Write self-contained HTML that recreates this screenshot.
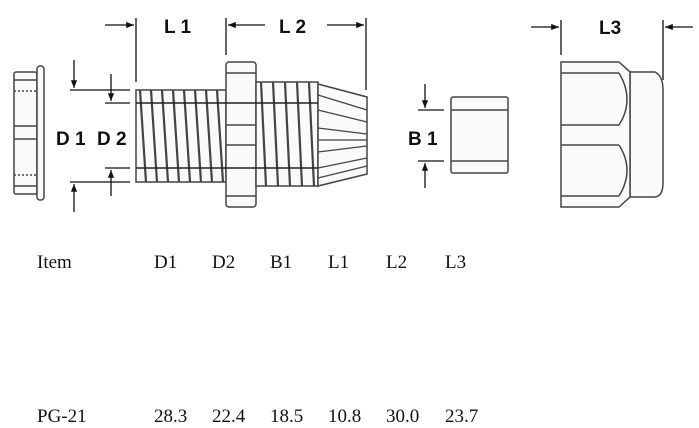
<!DOCTYPE html>
<html><head><meta charset="utf-8"><style>
html,body{margin:0;padding:0;background:#fff;width:699px;height:428px;overflow:hidden}
svg{display:block}
.t{font-family:"Liberation Serif",serif;font-size:19px;fill:#111}
.b{font-family:"Liberation Sans",sans-serif;font-size:19px;font-weight:bold;fill:#111}
</style></head><body>
<svg width="699" height="428" viewBox="0 0 699 428" xmlns="http://www.w3.org/2000/svg">
<defs>
<marker id="a" viewBox="0 0 10 10" refX="10" refY="5" markerWidth="7" markerHeight="6" orient="auto-start-reverse"><path d="M0,1 L10,5 L0,9 z" fill="#111"/></marker>
</defs>
<g stroke="#444" stroke-width="1.5" fill="#fafafa">
<rect x="14" y="72" width="23" height="122" rx="2"/>
<rect x="37" y="66" width="7" height="134" rx="3"/>
<line x1="14" y1="80" x2="37" y2="80"/><line x1="14" y1="91" x2="37" y2="91" stroke-dasharray="2 2"/>
<line x1="14" y1="126" x2="37" y2="126"/><line x1="14" y1="139" x2="37" y2="139"/>
<line x1="14" y1="175" x2="37" y2="175" stroke-dasharray="2 2"/><line x1="14" y1="186" x2="37" y2="186"/>
<rect x="136" y="90" width="90" height="92"/>
<rect x="226" y="62" width="30" height="145" rx="3"/>
<line x1="226" y1="73" x2="256" y2="73"/><line x1="226" y1="125" x2="256" y2="125"/>
<line x1="226" y1="145" x2="256" y2="145"/><line x1="226" y1="196" x2="256" y2="196"/>
<rect x="256" y="82" width="62" height="104"/>
<path d="M318,84 L367,97 L367,174 L318,186 z"/>
<rect x="451" y="97" width="57" height="76" rx="2"/>
<line x1="451" y1="110" x2="508" y2="110"/><line x1="451" y1="161" x2="508" y2="161"/>
<path d="M630,72 L655,72 Q663,76 663,90 L663,183 Q663,196 655,197 L630,197 z"/>
<path d="M561,62 L619,62 L630,72 L630,197 L619,207 L561,207 z"/>
<line x1="561" y1="73" x2="619" y2="73"/><line x1="561" y1="125" x2="619" y2="125"/>
<line x1="561" y1="145" x2="619" y2="145"/><line x1="561" y1="196" x2="619" y2="196"/>
<path d="M619,73 Q635,100 619,125 M619,145 Q635,170 619,196" fill="none"/>
</g>
<g stroke="#444" stroke-width="2.2" fill="none">
<path d="M140,90 L146,182 M151,90 L157,182 M162,90 L168,182 M173,90 L179,182 M184,90 L190,182 M195,90 L201,182 M206,90 L212,182 M217,90 L223,182"/>
<path d="M261,82 L266,186 M273,82 L278,186 M285,82 L290,186 M297,82 L302,186 M309,82 L314,186"/>
<path d="M318,95 L367,110 M318,110 L367,122 M318,128 L367,134 M318,140 L367,140 M318,152 L367,146 M318,168 L367,158 M318,178 L367,166" stroke-width="1.2"/>
<line x1="136" y1="103" x2="318" y2="103" stroke="#222" stroke-width="1.6"/>
<line x1="136" y1="168" x2="318" y2="168" stroke="#222" stroke-width="1.6"/>
</g>
<g stroke="#111" stroke-width="1.3" fill="none">
<line x1="136" y1="18" x2="136" y2="82"/>
<line x1="105" y1="25" x2="134" y2="25" marker-end="url(#a)"/>
<line x1="226" y1="18" x2="226" y2="55"/>
<line x1="265" y1="25" x2="228" y2="25" marker-end="url(#a)"/>
<line x1="327" y1="25" x2="364" y2="25" marker-end="url(#a)"/>
<line x1="366" y1="18" x2="366" y2="90"/>
<line x1="70" y1="90" x2="130" y2="90"/><line x1="70" y1="182" x2="130" y2="182"/>
<line x1="105" y1="103" x2="130" y2="103"/><line x1="105" y1="168" x2="130" y2="168"/>
<line x1="74" y1="60" x2="74" y2="88" marker-end="url(#a)"/>
<line x1="74" y1="212" x2="74" y2="184" marker-end="url(#a)"/>
<line x1="111" y1="74" x2="111" y2="101" marker-end="url(#a)"/>
<line x1="111" y1="196" x2="111" y2="170" marker-end="url(#a)"/>
<line x1="418" y1="110" x2="444" y2="110"/><line x1="418" y1="161" x2="444" y2="161"/>
<line x1="425" y1="84" x2="425" y2="108" marker-end="url(#a)"/>
<line x1="425" y1="188" x2="425" y2="163" marker-end="url(#a)"/>
<line x1="561" y1="20" x2="561" y2="55"/>
<line x1="531" y1="27" x2="559" y2="27" marker-end="url(#a)"/>
<line x1="663" y1="20" x2="663" y2="80"/>
<line x1="693" y1="27" x2="665" y2="27" marker-end="url(#a)"/>
</g>
<text class="b" x="164" y="33">L 1</text>
<text class="b" x="279" y="33">L 2</text>
<text class="b" x="599" y="34">L3</text>
<text class="b" x="56" y="145">D 1</text>
<text class="b" x="97" y="145">D 2</text>
<text class="b" x="408" y="145">B 1</text>
<text class="t" x="37" y="268">Item</text>
<text class="t" x="154" y="268">D1</text>
<text class="t" x="212" y="268">D2</text>
<text class="t" x="270" y="268">B1</text>
<text class="t" x="328" y="268">L1</text>
<text class="t" x="386" y="268">L2</text>
<text class="t" x="445" y="268">L3</text>
<text class="t" x="37" y="422">PG-21</text>
<text class="t" x="154" y="422">28.3</text>
<text class="t" x="212" y="422">22.4</text>
<text class="t" x="270" y="422">18.5</text>
<text class="t" x="328" y="422">10.8</text>
<text class="t" x="386" y="422">30.0</text>
<text class="t" x="445" y="422">23.7</text>
</svg>
</body></html>
